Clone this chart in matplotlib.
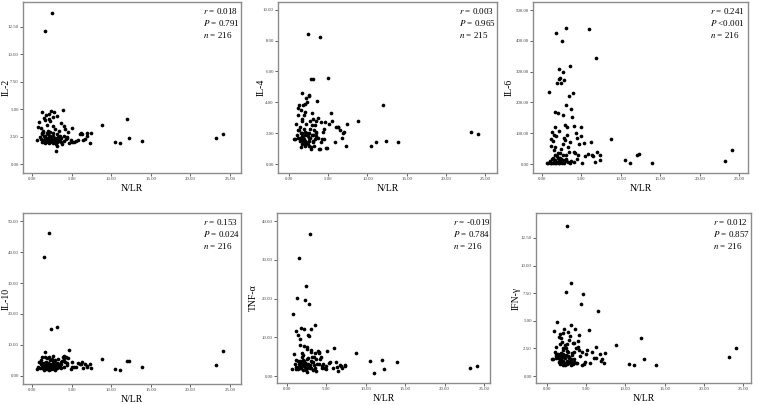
import matplotlib
matplotlib.use("Agg")
import matplotlib.pyplot as plt

plt.rcParams['font.family'] = ['Liberation Serif', 'DejaVu Serif']
plt.rcParams['mathtext.fontset'] = 'stix'

# N/LR values shared by all six panels
nlr = [8.8, 10.5, 11.1, 12.0, 12.3, 13.9, 23.2, 24.1, 6.0, 6.9,
       5.1, 5.3, 5.5, 5.8, 6.2, 6.3, 6.5, 6.7, 7.0, 7.4,
       7.3, 4.0, 4.1, 4.3, 4.4, 4.6, 4.7, 4.9, 5.0, 4.2,
       1.6, 2.5, 2.4, 3.9, 2.8, 3.1, 1.8, 3.0, 2.6, 3.6,
       2.1, 2.2, 2.9, 0.9, 3.4, 1.5, 2.3, 1.3, 0.8, 3.7,
       1.9, 1.1, 1.7, 2.0, 2.7, 3.2, 3.3, 3.5, 3.8, 1.2,
       1.4, 1.0, 0.6, 1.5, 1.6, 1.8, 2.0, 2.2, 2.4, 2.6,
       2.8, 3.0, 3.2, 3.4, 1.3, 1.7, 1.9, 2.1, 2.3, 2.5,
       2.7, 2.9, 3.1, 1.4, 1.6, 1.8, 2.0, 2.2, 2.4, 2.6,
       1.2, 1.5, 1.7, 1.9, 2.1, 2.3, 2.5, 2.7, 2.9, 3.3,
       3.5, 3.7, 4.1, 4.4, 1.1, 1.4, 1.6, 2.0, 2.8, 3.0]

il2 = [3.6, 2.0, 1.95, 4.1, 2.4, 2.1, 2.4, 2.7, 2.7, 2.6,
       3.3, 2.0, 2.1, 2.2, 2.8, 2.7, 2.2, 2.3, 2.8, 2.85,
       1.9, 3.5, 2.6, 2.3, 2.5, 2.9, 1.9, 2.2, 2.0, 3.2,
       12.1, 13.8, 4.8, 4.9, 4.7, 4.4, 4.5, 1.2, 4.3, 3.7,
       4.1, 4.6, 3.2, 3.8, 3.0, 4.2, 3.9, 4.7, 3.4, 2.4,
       3.6, 3.3, 4.0, 2.3, 3.5, 2.0, 2.2, 2.6, 1.8, 2.8,
       2.2, 2.5, 2.2, 2.0, 1.9, 2.4, 2.1, 2.0, 2.3, 1.9,
       2.2, 1.8, 2.7, 2.1, 2.7, 2.6, 2.8, 2.5, 2.9, 2.4,
       2.6, 2.4, 1.6, 2.9, 2.3, 2.0, 2.7, 2.3, 2.1, 2.8,
       2.0, 2.6, 2.1, 2.2, 1.9, 2.6, 2.0, 2.1, 2.0, 2.5,
       2.3, 2.0, 2.1, 2.4, 2.3, 3.0, 2.5, 3.0, 2.3, 2.2]

il4 = [2.8, 1.2, 1.45, 3.8, 1.5, 1.45, 2.1, 1.95, 2.4, 2.0,
       2.6, 3.3, 2.8, 1.45, 2.4, 2.4, 2.2, 1.7, 2.05, 2.6,
       1.2, 1.0, 2.7, 2.1, 1.6, 2.7, 1.05, 1.05, 5.6, 1.6,
       4.6, 4.4, 8.4, 8.25, 5.5, 5.5, 3.8, 2.9, 4.5, 4.1,
       3.9, 4.3, 3.3, 2.6, 2.8, 3.5, 4.0, 3.8, 1.6, 3.0,
       3.2, 3.6, 2.9, 3.4, 2.8, 1.2, 2.5, 2.1, 1.0, 3.2,
       1.5, 1.9, 1.6, 1.1, 1.3, 1.7, 1.9, 1.4, 1.8, 1.2,
       1.0, 1.5, 2.2, 1.8, 2.2, 2.0, 1.6, 1.2, 2.0, 1.7,
       2.3, 1.9, 1.4, 2.4, 1.8, 1.5, 2.1, 2.6, 1.3, 2.0,
       1.7, 2.0, 1.6, 2.3, 1.5, 1.9, 1.5, 1.7, 2.5, 1.6,
       2.0, 1.7, 1.4, 2.3, 2.2, 1.7, 2.8, 1.3, 1.1, 1.9]

il6 = [82, 14, 2, 28, 32, 3, 10, 46, 438, 345,
       5, 68, 25, 34, 72, 28, 25, 8, 38, 12,
       30, 124, 40, 100, 85, 28, 65, 120, 90, 35,
       120, 400, 262, 230, 272, 443, 425, 193, 300, 318,
       310, 275, 128, 235, 220, 95, 280, 104, 5, 180,
       262, 80, 168, 165, 158, 120, 55, 70, 152, 60,
       75, 10, 5, 45, 30, 90, 20, 108, 48, 65,
       85, 30, 95, 40, 15, 55, 25, 10, 35, 6,
       12, 78, 18, 5, 8, 3, 6, 4, 15, 7,
       3, 6, 12, 8, 4, 20, 5, 30, 10, 8,
       5, 10, 8, 15, 2, 20, 4, 35, 3, 12]

il10 = [5.4, 2.4, 1.9, 4.8, 4.7, 2.8, 3.5, 8.2, 4.0, 3.2,
        4.5, 3.0, 2.8, 4.2, 3.8, 4.5, 2.5, 3.8, 2.9, 2.5,
        4.0, 6.5, 5.5, 6.0, 3.5, 5.8, 8.5, 2.2, 3.0, 4.5,
        7.8, 5.5, 15.1, 6.2, 3.5, 15.9, 4.5, 3.0, 6.5, 3.8,
        46.3, 6.0, 5.2, 4.5, 4.0, 38.3, 5.0, 6.2, 3.0, 2.6,
        5.8, 5.0, 6.0, 4.2, 4.8, 3.2, 5.5, 2.8, 4.8, 3.6,
        3.0, 2.5, 2.2, 1.8, 3.5, 2.6, 3.8, 2.0, 3.2, 2.7,
        2.2, 3.6, 2.5, 3.0, 4.3, 3.1, 2.4, 3.3, 2.8, 4.0,
        3.0, 2.0, 4.2, 2.5, 2.8, 4.0, 2.9, 3.6, 2.3, 3.3,
        2.6, 4.2, 3.5, 3.0, 2.4, 3.9, 2.6, 3.4, 3.1, 3.8,
        3.1, 4.4, 2.8, 4.2, 3.9, 3.5, 2.3, 2.7, 4.6, 2.5]

tnf = [5.9, 4.0, 0.9, 4.1, 1.8, 3.6, 2.1, 2.5, 7.2, 2.6,
       6.5, 3.4, 3.6, 2.0, 3.7, 2.4, 1.2, 2.8, 2.2, 2.8,
       2.5, 6.3, 6.0, 4.8, 2.5, 3.2, 2.0, 1.8, 2.6, 4.5,
       8.0, 7.5, 23.3, 6.5, 18.6, 6.8, 12.5, 12.1, 7.0, 13.1,
       12.2, 7.8, 36.8, 5.8, 5.0, 30.6, 19.7, 20.1, 16.1, 4.5,
       6.0, 11.5, 9.5, 5.5, 10.5, 4.8, 3.5, 6.0, 3.0, 4.2,
       10.6, 3.0, 1.8, 2.5, 3.8, 2.2, 4.2, 3.0, 1.5, 4.5,
       10.4, 2.0, 3.5, 2.8, 2.0, 3.2, 4.8, 2.5, 3.4, 1.0,
       3.0, 2.2, 4.0, 1.8, 2.8, 3.5, 1.6, 4.0, 2.6, 2.0,
       2.4, 3.2, 2.0, 2.9, 3.6, 2.3, 3.0, 4.6, 2.8, 1.5,
       2.2, 1.4, 3.2, 2.0, 1.9, 4.0, 2.6, 3.1, 2.4, 6.2]

ifn = [2.85, 1.1, 1.0, 3.4, 1.5, 1.0, 1.7, 2.55, 1.6, 1.4,
       2.4, 4.2, 1.2, 2.2, 2.6, 1.6, 5.9, 2.0, 1.5, 2.1,
       1.2, 2.6, 3.7, 6.5, 2.2, 7.4, 1.1, 1.3, 2.0, 1.8,
       3.8, 13.6, 7.6, 3.2, 3.3, 4.6, 3.4, 8.4, 2.9, 4.3,
       3.9, 4.3, 3.6, 4.1, 3.0, 3.5, 2.8, 4.9, 1.5, 2.5,
       3.1, 2.6, 2.9, 2.4, 4.0, 1.9, 3.0, 2.2, 1.2, 2.0,
       1.6, 2.2, 1.5, 1.3, 1.8, 1.5, 1.7, 1.2, 1.9, 1.4,
       1.6, 1.0, 2.1, 1.3, 1.7, 1.1, 1.9, 1.4, 1.0, 2.3,
       1.8, 1.2, 1.5, 2.0, 1.4, 2.1, 1.0, 1.7, 2.5, 1.1,
       1.8, 1.6, 1.4, 1.3, 2.0, 1.6, 1.3, 2.2, 1.4, 1.1,
       1.5, 1.2, 2.4, 1.0, 1.6, 1.9, 1.2, 2.5, 1.7, 1.3]

labels = ['IL-2', 'IL-4', 'IL-6', 'IL-10', 'TNF-α', 'IFN-γ']
r_vals = ['0.018', '0.003', '0.241', '0.153', '-0.019', '0.012']
p_vals = ['= 0.791', '= 0.965', '<0.001', '= 0.024', '= 0.784', '= 0.857']
n_vals = ['216', '215', '216', '216', '216', '216']
y_ticks = [[0, 2.5, 5, 7.5, 10, 12.5],
           [0, 2, 4, 6, 8, 10],
           [0, 100, 200, 300, 400, 500],
           [0, 10, 20, 30, 40, 50],
           [0, 10, 20, 30, 40],
           [0, 2.5, 5, 7.5, 10, 12.5]]
x_ticks = [0, 5, 10, 15, 20, 25]

# panel boxes in pixels: left, top, right, bottom
boxes = [(23, 2, 241, 173), (278, 2, 497, 173), (533, 2, 748, 173),
         (23, 213, 241, 384), (277, 213, 490, 383), (536, 213, 751, 383)]
ylab_off = [12, 12, 19, 12, 19, 15]
xlims = [(-1.14, 26.4), (-1.4, 26.5), (-1.14, 26.1),
         (-1.14, 26.4), (-1.27, 25.76), (-1.4, 26.0)]
ylims = [(-0.82, 14.78), (-0.58, 10.5), (-29, 526),
         (-2.6, 52.6), (-1.8, 42.1), (-0.63, 14.76)]
series = [il2, il4, il6, il10, tnf, ifn]

W, H = 758, 405
fig = plt.figure(figsize=(W / 100, H / 100), dpi=100)

for i in range(6):
    l, t, r, b = boxes[i]
    ax = fig.add_axes([l / W, 1 - b / H, (r - l) / W, (b - t) / H])
    ax.scatter(nlr, series[i], s=7, color='black', linewidths=0)
    ax.set_xlim(xlims[i])
    ax.set_ylim(ylims[i])
    ax.set_xticks(x_ticks)
    ax.set_xticklabels(['%.2f' % v for v in x_ticks])
    ax.set_yticks(y_ticks[i])
    ax.set_yticklabels(['%.2f' % v for v in y_ticks[i]])
    ax.tick_params(labelsize=3.5, length=2, width=0.6, pad=1, colors='#444444')
    for sp in ax.spines.values():
        sp.set_color('#8c8c8c')
        sp.set_linewidth(1.0)
    ax.set_xlabel('N/LR', fontsize=7, labelpad=2)
    ax.set_ylabel(labels[i], fontsize=7)
    ax.yaxis.set_label_coords(-ylab_off[i] / (r - l), 0.5)
    txt = '$r$ = %s\n$P$ %s\n$n$ = %s' % (r_vals[i], p_vals[i], n_vals[i])
    ax.text(0.825, 0.975, txt, transform=ax.transAxes, fontsize=6.5,
            va='top', ha='left', linespacing=1.25)

fig.savefig('out.png', dpi=100)
